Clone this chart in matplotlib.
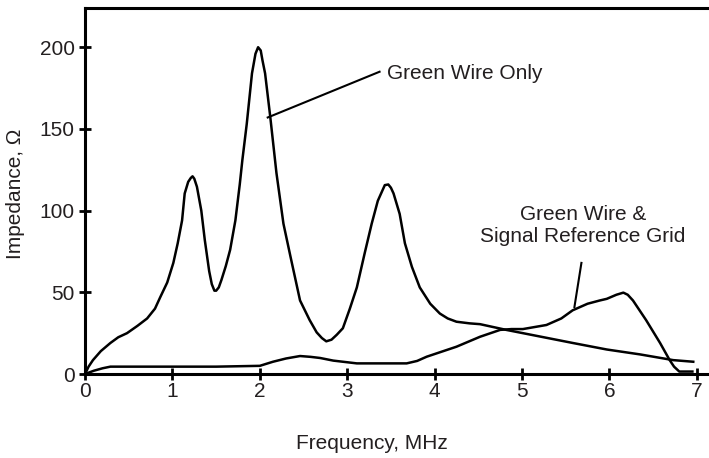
import matplotlib
matplotlib.use('Agg')
import matplotlib.pyplot as plt

# Green Wire Only (freq MHz, impedance ohm)
freqGreen = [0.0, 0.04, 0.09, 0.18, 0.29, 0.38, 0.48, 0.60, 0.71, 0.80, 0.86, 0.94, 1.01,
             1.06, 1.11, 1.14, 1.18, 1.21, 1.23, 1.25, 1.28, 1.33, 1.37, 1.42, 1.45,
             1.48, 1.50, 1.53, 1.56, 1.61, 1.66, 1.72, 1.77, 1.80, 1.85, 1.91, 1.95,
             1.98, 2.01, 2.03, 2.06, 2.12, 2.19, 2.27, 2.35, 2.46, 2.57, 2.65, 2.71,
             2.76, 2.82, 2.88, 2.95, 3.03, 3.11, 3.20, 3.28, 3.35, 3.43, 3.47, 3.50,
             3.53, 3.60, 3.66, 3.74, 3.83, 3.95, 4.06, 4.15, 4.25, 4.40, 4.52, 4.82,
             5.20, 5.58, 5.97, 6.35, 6.73, 6.96]
impGreen = [0, 4.5, 8.5, 14, 19, 22.5, 25, 29.5, 34, 40, 47, 56, 68,
            80, 94, 110.5, 117.6, 120, 121, 119.5, 114.6, 100, 82, 63, 55,
            51, 51, 53, 57.5, 66, 76, 94, 116, 131, 153, 184, 196,
            200, 198, 192, 184, 157, 123, 92, 72, 45, 33, 25.5, 22,
            20, 21, 24, 28, 40, 53, 74, 92, 106, 115.6, 116, 114,
            110.5, 98, 80, 65.6, 53, 43, 37, 34, 32, 31, 30.5, 27,
            23, 19, 15, 12, 8.5, 7.5]

# Green Wire & Signal Reference Grid
freqSrg = [0.0, 0.1, 0.2, 0.29, 0.5, 1.0, 1.5, 2.0, 2.15, 2.30, 2.46, 2.58, 2.69, 2.84,
           3.11, 3.68, 3.80, 3.91, 4.25, 4.52, 4.75, 4.88, 5.01, 5.28, 5.45, 5.58,
           5.75, 5.89, 5.97, 6.08, 6.16, 6.21, 6.27, 6.42, 6.58, 6.69, 6.74, 6.80,
           6.95]
impSrg = [0, 2, 3.5, 4.5, 4.5, 4.5, 4.5, 5, 7.5, 9.5, 11, 10.5, 9.8, 8.2,
          6.5, 6.5, 8, 10.6, 16.7, 22.8, 27, 27.5, 27.5, 30, 34, 39,
          43, 45, 46, 48.5, 49.8, 48.5, 45, 33, 19, 8.5, 4.5, 1.5,
          1.5]

xTicks = [0, 1, 2, 3, 4, 5, 6, 7]
yTicks = [0, 50, 100, 150, 200]

corTexto = '#231f20'
tamFonte = 15
plt.rcParams['font.family'] = ['Liberation Sans', 'DejaVu Sans']

fig = plt.figure(figsize=(7.09, 4.58), dpi=100)
ax = fig.add_axes([0.12, 0.1834, 0.88, 0.7991])

ax.plot(freqGreen, impGreen, color='black', lw=1.8, clip_on=False, zorder=3,
        solid_joinstyle='round')
ax.plot(freqSrg, impSrg, color='black', lw=1.8, clip_on=False, zorder=3,
        solid_joinstyle='round')

ax.set_xlim(0, 7.14)
ax.set_ylim(0, 224)
ax.set_xticks(xTicks)
ax.set_yticks(yTicks)

for lado in ['left', 'bottom', 'top']:
    ax.spines[lado].set_linewidth(2.2)
ax.spines['right'].set_visible(False)

ax.tick_params(axis='both', direction='inout', width=2.0, labelsize=tamFonte,
               labelcolor=corTexto)
ax.tick_params(axis='y', length=9, pad=3)
ax.tick_params(axis='x', length=8, pad=2)

ax.set_xlabel('Frequency, MHz', fontsize=tamFonte, color=corTexto)
ax.set_ylabel('Impedance, \u03a9', fontsize=tamFonte, color=corTexto)
ax.xaxis.set_label_coords(0.46, -0.165)
ax.yaxis.set_label_coords(-0.096, 0.492)

# anotações
ax.plot([2.09, 3.37], [157, 185], color='black', lw=1.5)
ax.text(3.45, 184, 'Green Wire Only', fontsize=tamFonte, color=corTexto,
        ha='left', va='center')

ax.plot([5.68, 5.60], [68, 41], color='black', lw=1.5)
ax.text(5.70, 91, 'Green Wire &\nSignal Reference Grid', fontsize=tamFonte,
        color=corTexto, ha='center', va='center', linespacing=1.2)

fig.savefig('out.png', dpi=100)
